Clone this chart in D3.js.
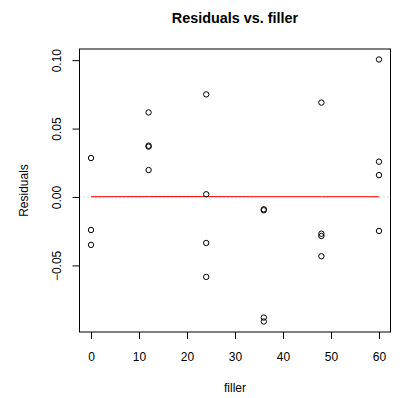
<!DOCTYPE html>
<html>
<head>
<meta charset="utf-8">
<script src="https://cdn.jsdelivr.net/npm/d3@7"></script>
<style>
  body { margin: 0; background: #fff; }
  text { font-family: "Liberation Sans", Arial, Helvetica, sans-serif; }
</style>
</head>
<body>
<div id="chart"></div>
<script>
// values
const filler = [0, 0, 0, 12, 12, 12, 12, 24, 24, 24, 24, 36, 36, 36, 36, 48, 48, 48, 48, 60, 60, 60, 60];
const residuals = [0.0285, -0.0241, -0.0350, 0.0618, 0.0375, 0.0368, 0.0197, 0.0750, 0.0020, -0.0336, -0.0584,
  -0.0090, -0.0097, -0.0881, -0.0910, 0.0690, -0.0268, -0.0285, -0.0433, 0.1005, 0.0258, 0.0160, -0.0248];
// smoothed (lowess) line through the residuals
const smoothX = [0, 12, 24, 36, 48, 60];
const smoothY = [0.0002, 0.0003, 0.0003, 0.0002, 0.0002, 0.0002];
const xTicks = [0, 10, 20, 30, 40, 50, 60];
const yTicks = [-0.05, 0, 0.05, 0.10];

const config = {
  width: 419, height: 398,
  margin: { top: 49, right: 28.5, bottom: 66, left: 79.5 }
};
const plotW = config.width - config.margin.left - config.margin.right;
const plotH = config.height - config.margin.top - config.margin.bottom;

const svg = d3.select('#chart').append('svg')
  .attr('width', config.width)
  .attr('height', config.height);

// R-style 4% padding of the data range
const pad = (ext) => {
  const d = (ext[1] - ext[0]) * 0.04;
  return [ext[0] - d, ext[1] + d];
};

const x = d3.scaleLinear().domain(pad(d3.extent(filler))).range([0, plotW]);
const y = d3.scaleLinear().domain(pad(d3.extent(residuals))).range([plotH, 0]);

const g = svg.append('g')
  .attr('transform', `translate(${config.margin.left},${config.margin.top})`);

// axes
const xAxis = g.append('g')
  .attr('transform', `translate(0,${plotH})`)
  .call(d3.axisBottom(x).tickValues(xTicks).tickSize(7).tickPadding(13).tickSizeOuter(0));
xAxis.select('.domain').remove();
xAxis.selectAll('text').style('font-size', '12px').attr('fill', '#000');

const yAxis = g.append('g')
  .call(d3.axisLeft(y).tickValues(yTicks).tickFormat(d3.format('.2f')).tickSize(7).tickSizeOuter(0));
yAxis.select('.domain').remove();
yAxis.selectAll('text')
  .style('font-size', '12px')
  .attr('fill', '#000')
  .attr('transform', 'rotate(-90)')
  .attr('text-anchor', 'middle')
  .attr('x', 0)
  .attr('y', -18.5)
  .attr('dy', null);

// zero reference line (gray dotted) and smooth line (red)
g.append('line')
  .attr('x1', 0).attr('x2', plotW)
  .attr('y1', y(0)).attr('y2', y(0))
  .attr('stroke', '#bebebe')
  .attr('stroke-dasharray', '1,3');

g.append('path')
  .datum(smoothX.map((d, i) => [d, smoothY[i]]))
  .attr('fill', 'none')
  .attr('stroke', '#ff0000')
  .attr('stroke-width', 1)
  .attr('d', d3.line().x(d => x(d[0])).y(d => y(d[1])));

// points
g.selectAll('circle')
  .data(filler.map((d, i) => ({ x: d, y: residuals[i] })))
  .join('circle')
  .attr('cx', d => x(d.x))
  .attr('cy', d => y(d.y))
  .attr('r', 2.7)
  .attr('fill', 'none')
  .attr('stroke', '#000')
  .attr('stroke-width', 1);

// plot box
g.append('rect')
  .attr('width', plotW)
  .attr('height', plotH)
  .attr('fill', 'none')
  .attr('stroke', '#000');

// titles
svg.append('text')
  .attr('x', config.margin.left + plotW / 2)
  .attr('y', 23)
  .attr('text-anchor', 'middle')
  .style('font-size', '14.4px')
  .style('font-weight', 'bold')
  .text('Residuals vs. filler');

svg.append('text')
  .attr('x', config.margin.left + plotW / 2)
  .attr('y', 392)
  .attr('text-anchor', 'middle')
  .style('font-size', '12px')
  .text('filler');

svg.append('text')
  .attr('transform', `translate(28,${config.margin.top + plotH / 2}) rotate(-90)`)
  .attr('text-anchor', 'middle')
  .style('font-size', '12px')
  .text('Residuals');
</script>
</body>
</html>
